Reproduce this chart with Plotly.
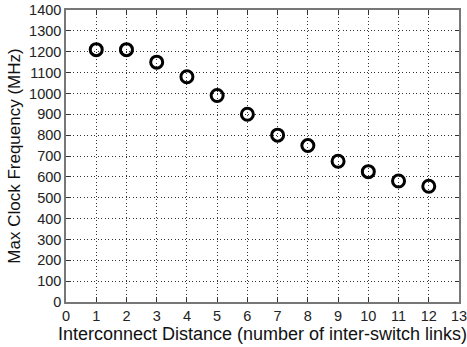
import plotly.graph_objects as go

distance = [1, 2, 3, 4, 5, 6, 7, 8, 9, 10, 11, 12]
max_freq = [1210, 1210, 1150, 1080, 990, 900, 800, 750, 675, 625, 580, 555]
x_ticks = list(range(0, 14))
y_ticks = list(range(0, 1401, 100))

FONT = "Liberation Sans, Arial"

fig = go.Figure()
fig.add_trace(go.Scatter(
    x=distance, y=max_freq, mode="markers",
    marker=dict(symbol="circle-open", size=12, color="black",
                line=dict(width=3, color="black")),
    showlegend=False, cliponaxis=False,
))

axis_common = dict(
    showline=True, linecolor="#777777", linewidth=1.5, mirror="ticks",
    ticks="inside", ticklen=4, tickcolor="#333333",
    showgrid=True, gridcolor="#333333", griddash="1px,2.5px", gridwidth=1,
    zeroline=False, automargin=False, ticklabeloverflow="allow",
    tickfont=dict(family=FONT, size=14.5, color="#222222"),
)

fig.update_xaxes(
    range=[0, 13], tickvals=x_ticks, ticktext=[str(v) for v in x_ticks],
    title=dict(text="Interconnect Distance (number of inter-switch links)",
               font=dict(family=FONT, size=18, color="#111111"),
               standoff=2),
    **axis_common,
)
fig.update_yaxes(
    range=[0, 1400], tickvals=y_ticks, ticktext=[str(v) for v in y_ticks],
    title=dict(text="Max Clock Frequency (MHz)",
               font=dict(family=FONT, size=17, color="#111111"),
               standoff=4),
    **axis_common,
)

fig.update_layout(
    width=467, height=347,
    margin=dict(l=66, r=8, t=10, b=45),
    paper_bgcolor="white", plot_bgcolor="white",
)

fig.write_html(
    "out.html",
    config={"displayModeBar": False},
    post_script="document.body.style.margin='0';document.body.style.overflow='hidden';",
)
